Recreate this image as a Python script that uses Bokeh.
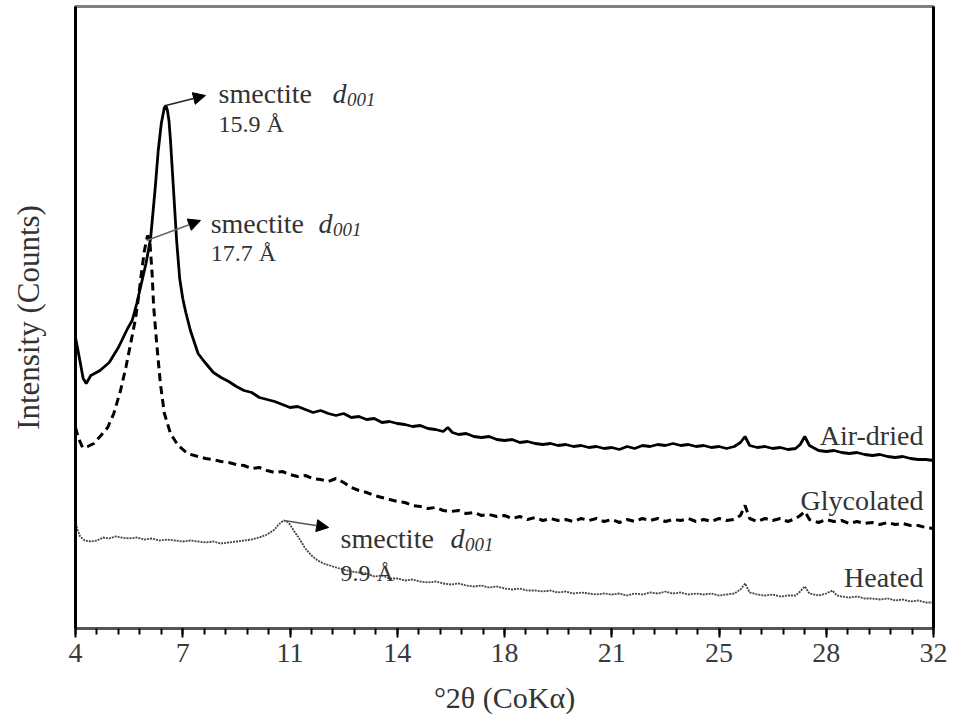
from bokeh.plotting import figure
from bokeh.models import Range1d, FixedTicker, LinearAxis, Label, Arrow, NormalHead
from bokeh.embed import file_html
from bokeh.resources import INLINE

# ---------------- data ----------------
x_ticks = [3.5, 7.0, 10.5, 14.0, 17.5, 21.0, 24.5, 28.0, 31.5]
x_tick_labels = ["4", "7", "11", "14", "18", "21", "25", "28", "32"]

air_x = [3.5, 3.6, 3.75, 3.85, 4.0, 4.3, 4.6, 4.9, 5.2, 5.35, 5.5, 5.65, 5.8, 5.95, 6.1, 6.2, 6.3, 6.4, 6.45,
         6.5, 6.55, 6.6, 6.7, 6.8, 6.9, 7.0, 7.1, 7.25, 7.5, 7.7, 8.0,
         8.25, 8.5, 8.75, 9.0, 9.25, 9.5, 9.75, 10.0, 10.25, 10.5, 10.75, 11.0, 11.25, 11.5, 11.75, 12.0,
         12.25, 12.5, 12.75, 13.0, 13.25, 13.5, 13.75, 14.0, 14.25, 14.5, 14.75, 15.0, 15.25, 15.5, 15.65,
         15.8, 16.0, 16.25, 16.5, 16.75, 17.0, 17.25, 17.5, 17.75, 18.0, 18.25, 18.5, 18.75, 19.0, 19.25,
         19.5, 19.75, 20.0, 20.25, 20.5, 20.75, 21.0, 21.25, 21.5, 21.75, 22.0, 22.25, 22.5, 22.75, 23.0,
         23.25, 23.5, 23.75, 24.0, 24.25, 24.5, 24.75, 25.0, 25.2, 25.35, 25.5, 25.75, 26.0, 26.25, 26.5,
         26.75, 27.0, 27.15, 27.3, 27.45, 27.75, 28.0, 28.25, 28.5, 28.75, 29.0, 29.25, 29.5, 29.75, 30.0,
         30.25, 30.5, 30.75, 31.0, 31.25, 31.5]
air_y = [291, 275, 250, 245, 253, 258, 266, 281, 300, 308, 325, 345, 365, 390, 440, 478, 505, 521, 523,
         518, 508, 488, 438, 388, 350, 330, 316, 298, 275, 267, 256,
         251, 247, 242, 238, 236, 231, 229, 227, 224, 221, 222, 219, 216, 218, 215, 213,
         215, 211, 212, 209, 210, 206, 207, 205, 204, 202, 203, 200, 199, 197, 201,
         196, 194, 195, 192, 191, 192, 189, 188, 189, 186, 187, 185, 184, 185, 183,
         184, 182, 183, 181, 182, 180, 181, 179, 182, 180, 183, 182, 184, 183, 185,
         183, 184, 182, 183, 181, 182, 180, 182, 186, 192, 183, 181, 182, 180, 181,
         179, 180, 184, 192, 183, 178, 177, 178, 176, 175, 176, 174, 173, 174, 172,
         171, 172, 170, 169, 169, 168]

gly_x = [3.5, 3.6, 3.73, 3.9, 4.1, 4.3, 4.55, 4.75, 4.97, 5.15, 5.3, 5.46, 5.55, 5.65, 5.75, 5.85, 5.92,
         6.0, 6.05, 6.15, 6.27, 6.4, 6.6, 6.85, 7.15, 7.5, 7.75, 8.0, 8.25, 8.5, 8.75, 9.0, 9.25, 9.5,
         9.75, 10.0, 10.25, 10.5, 10.75, 11.0, 11.25, 11.5, 11.75, 12.0, 12.25, 12.5, 12.75, 13.0, 13.25,
         13.5, 13.75, 14.0, 14.25, 14.5, 14.75, 15.0, 15.25, 15.5, 15.75, 16.0, 16.25, 16.5, 16.75, 17.0,
         17.25, 17.5, 17.75, 18.0, 18.25, 18.5, 18.75, 19.0, 19.25, 19.5, 19.75, 20.0, 20.25, 20.5, 20.75,
         21.0, 21.25, 21.5, 21.75, 22.0, 22.25, 22.5, 22.75, 23.0, 23.25, 23.5, 23.75, 24.0, 24.25, 24.5,
         24.75, 25.0, 25.2, 25.35, 25.5, 25.75, 26.0, 26.25, 26.5, 26.75, 27.0, 27.15, 27.3, 27.45, 27.75,
         28.0, 28.25, 28.5, 28.75, 29.0, 29.25, 29.5, 29.75, 30.0, 30.25, 30.5, 30.75, 31.0, 31.25, 31.5]
gly_y = [201, 190, 181, 182, 185, 192, 201, 215, 238, 262, 285, 310, 330, 355, 378, 393, 390,
         355, 322, 285, 245, 215, 195, 183, 175, 172, 170, 169, 167, 166, 164, 163, 160, 161,
         158, 156, 157, 154, 152, 153, 150, 149, 147, 150, 146, 141, 138, 136, 133,
         131, 129, 127, 126, 123, 122, 120, 121, 118, 117, 118, 115, 116, 113, 114,
         112, 113, 110, 112, 109, 111, 108, 110, 108, 109, 107, 110, 108, 110, 107,
         109, 106, 109, 107, 110, 108, 110, 107, 109, 108, 110, 107, 109, 107, 110,
         108, 109, 113, 123, 110, 107, 110, 108, 110, 107, 110, 113, 117, 109, 106,
         109, 107, 108, 105, 107, 105, 106, 104, 106, 104, 105, 103, 103, 101, 100]

hea_x = [3.5, 3.55, 3.65, 3.8, 4.0, 4.2, 4.4, 4.6, 4.8, 5.0, 5.25, 5.5, 5.75, 6.0, 6.25, 6.5, 6.75, 7.0,
         7.25, 7.5, 7.75, 8.0, 8.25, 8.5, 8.75, 9.0, 9.25, 9.5, 9.75, 10.0, 10.1, 10.2, 10.3, 10.4, 10.5,
         10.6, 10.8, 11.0, 11.2, 11.4, 11.6, 11.8, 12.0, 12.25, 12.5, 12.75, 13.0, 13.25, 13.5, 13.75,
         14.0, 14.25, 14.5, 14.75, 15.0, 15.25, 15.5, 15.75, 16.0, 16.25, 16.5, 16.75, 17.0, 17.25, 17.5,
         17.75, 18.0, 18.25, 18.5, 18.75, 19.0, 19.25, 19.5, 19.75, 20.0, 20.25, 20.5, 20.75, 21.0, 21.25,
         21.5, 21.75, 22.0, 22.25, 22.5, 22.75, 23.0, 23.25, 23.5, 23.75, 24.0, 24.25, 24.5, 24.75, 25.0,
         25.2, 25.35, 25.5, 25.75, 26.0, 26.25, 26.5, 26.75, 27.0, 27.15, 27.3, 27.45, 27.75, 28.0, 28.2,
         28.35, 28.5, 28.75, 29.0, 29.25, 29.5, 29.75, 30.0, 30.25, 30.5, 30.75, 31.0, 31.25, 31.5]
hea_y = [108, 100, 92, 88, 87, 88, 91, 90, 92, 91, 90, 91, 89, 90, 88, 89, 88, 87,
         88, 87, 86, 87, 85, 86, 87, 88, 89, 91, 94, 99, 103, 106, 108, 107, 104,
         99, 90, 80, 73, 68, 65, 63, 61, 59, 57, 56, 55, 52, 53, 50,
         50, 48, 49, 47, 46, 47, 45, 44, 45, 43, 42, 43, 41, 42, 40,
         39, 40, 38, 38, 37, 38, 36, 37, 35, 36, 35, 34, 35, 34, 35,
         33, 35, 34, 36, 35, 37, 35, 36, 34, 35, 34, 35, 33, 34, 35,
         39, 45, 36, 34, 33, 34, 32, 33, 33, 37, 42, 35, 33, 35, 38,
         33, 32, 31, 32, 30, 30, 29, 30, 28, 29, 27, 28, 26, 26]

series_names = ["Air-dried", "Glycolated", "Heated"]

SERIF = "Liberation Serif"
TXT = "#333333"

p = figure(width=958, height=725, x_range=Range1d(3.5, 31.5), y_range=Range1d(0, 622),
           output_backend="svg", toolbar_location=None,
           min_border_left=75, min_border_right=25, min_border_top=6, min_border_bottom=97,
           x_axis_label="°2θ (CoKα)", y_axis_label="Intensity (Counts)")
p.grid.visible = False
p.outline_line_color = "#808080"
p.outline_line_width = 3

# x axis
xa = p.xaxis[0]
minor = [round(3.5 + 0.7 * k, 2) for k in range(41)]
xa.ticker = FixedTicker(ticks=x_ticks, minor_ticks=minor)
xa.major_label_overrides = {float(t): l for t, l in zip(x_ticks, x_tick_labels)}
xa.axis_line_color = "#555555"
xa.axis_line_width = 3
xa.major_tick_line_color = "black"
xa.major_tick_line_width = 2
xa.major_tick_in = 0
xa.major_tick_out = 9
xa.minor_tick_line_color = "black"
xa.minor_tick_line_width = 2
xa.minor_tick_in = 0
xa.minor_tick_out = 6
xa.major_label_text_font = SERIF
xa.major_label_text_font_size = "28px"
xa.major_label_text_color = "#3a3a3a"
xa.major_label_standoff = 6
xa.axis_label_text_font = SERIF
xa.axis_label_text_font_style = "normal"
xa.axis_label_text_font_size = "30px"
xa.axis_label_text_color = TXT
xa.axis_label_standoff = 8

# y axis (spine only)
ya = p.yaxis[0]
ya.ticker = FixedTicker(ticks=[])
ya.axis_line_color = "black"
ya.axis_line_width = 3
ya.axis_label_text_font = SERIF
ya.axis_label_text_font_style = "normal"
ya.axis_label_text_font_size = "31px"
ya.axis_label_text_color = TXT
ya.axis_label_standoff = 30

ra = LinearAxis(ticker=FixedTicker(ticks=[]), axis_line_color="black", axis_line_width=3)
p.add_layout(ra, "right")

# curves
p.line(hea_x, hea_y, line_color="#444444", line_width=1.8, line_dash="2 1")
p.line(gly_x, gly_y, line_color="black", line_width=3, line_dash="8 5")
p.line(air_x, air_y, line_color="black", line_width=2.8)

# series labels
for name, yb in zip(series_names, [193, 128, 51]):
    p.add_layout(Label(x=31.17, y=yb, text=name, text_align="right", text_baseline="alphabetic",
                       text_font=SERIF, text_font_size="28px", text_color=TXT))

# annotations
annots = [
    ((6.45, 523), (7.74, 533), 8.17, 535, 11.89, 12.36, 529, "15.9 Å", 505, "#222222"),
    ((5.82, 388), (7.58, 408), 7.91, 405, 11.43, 11.90, 399, "17.7 Å", 376, "#666666"),
    ((10.3, 108), (11.76, 101), 12.15, 90, 15.74, 16.21, 84, "9.9 Å", 56, "#555555"),
]
for (s, e, tx, tb, dx, sx, sb, val, vb, lc) in annots:
    p.add_layout(Arrow(x_start=s[0], y_start=s[1], x_end=e[0], y_end=e[1], line_color=lc,
                       line_width=1.5,
                       end=NormalHead(size=12, fill_color="black", line_color="black")))
    p.add_layout(Label(x=tx, y=tb, text="smectite", text_baseline="alphabetic",
                       text_font=SERIF, text_font_size="28px", text_color=TXT))
    p.add_layout(Label(x=dx, y=tb, text="d", text_baseline="alphabetic", text_font_style="italic",
                       text_font=SERIF, text_font_size="28px", text_color=TXT))
    p.add_layout(Label(x=sx, y=sb, text="001", text_baseline="alphabetic", text_font_style="italic",
                       text_font=SERIF, text_font_size="19px", text_color=TXT))
    p.add_layout(Label(x=tx, y=vb, text=val, text_baseline="alphabetic",
                       text_font=SERIF, text_font_size="24px", text_color=TXT))

# x-axis title nudged down to match reference position
xa.axis_label_standoff = 16

open("out.html", "w").write(file_html(p, INLINE))
